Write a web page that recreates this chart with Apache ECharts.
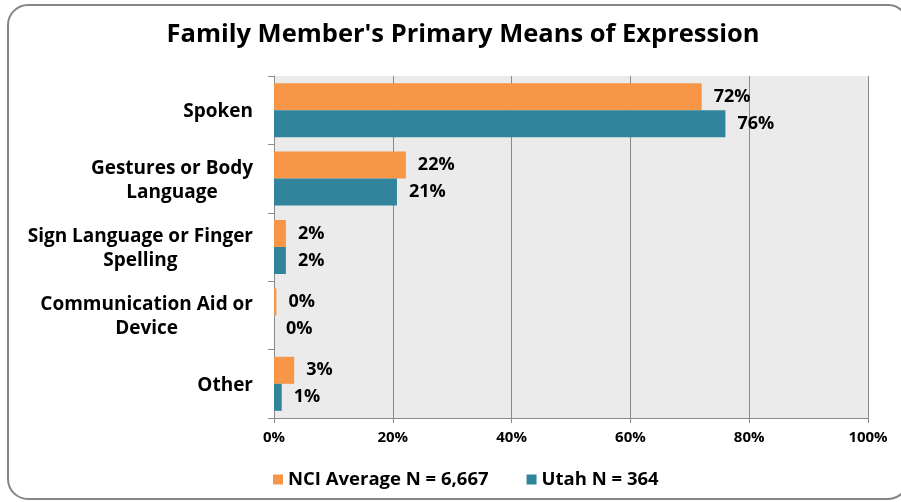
<!DOCTYPE html>
<html>
<head>
<meta charset="utf-8">
<script src="https://cdn.jsdelivr.net/npm/echarts@6/dist/echarts.min.js"></script>
<style>
html,body{margin:0;padding:0;background:#fff;}
#chart{width:901px;height:502px;}
</style>
</head>
<body>
<div id="chart"></div>
<script>
const categories = [
  'Spoken',
  'Gestures or Body\nLanguage',
  'Sign Language or Finger\nSpelling',
  'Communication Aid or\nDevice',
  'Other'
];
const seriesNames = ['NCI Average N = 6,667', 'Utah N = 364'];
const nciValues = [72, 22.2, 2, 0.4, 3.4];
const utahValues = [76, 20.7, 2, 0, 1.3];
const xTicks = [0, 20, 40, 60, 80, 100];

const FONT = 'Open Sans';
const chart = echarts.init(document.getElementById('chart'));

function labelFmt(p){ return Math.round(p.value) + '%'; }

chart.setOption({
  animation: false,
  backgroundColor: '#ffffff',
  title: {
    text: "Family Member's Primary Means of Expression",
    left: 458, top: 17, textAlign: 'center',
    textStyle: {fontFamily: FONT, fontWeight: 'bold', fontSize: 25.5, color: '#000'}
  },
  graphic: [{
    type: 'rect', silent: true, z: -1,
    shape: {x: 8, y: 5, width: 900, height: 494, r: 20},
    style: {fill: 'none', stroke: '#858585', lineWidth: 2}
  }],
  legend: {
    left: 268, top: 465,
    itemWidth: 10, itemHeight: 10, itemGap: 38,
    icon: 'rect',
    textStyle: {fontFamily: FONT, fontWeight: 'bold', fontSize: 18.5, color: '#000'},
    data: seriesNames
  },
  grid: {left: 274, right: 33, top: 76, bottom: 84, show: true, backgroundColor: '#ebebeb', borderWidth: 0},
  xAxis: {
    type: 'value', min: 0, max: 100, interval: 20,
    axisLine: {show: true, lineStyle: {color: '#8a8a8a', width: 1}},
    axisTick: {show: true, length: 5, lineStyle: {color: '#8a8a8a'}},
    splitLine: {show: true, lineStyle: {color: '#8a8a8a', width: 1}},
    axisLabel: {
      margin: 12, fontFamily: FONT, fontWeight: 'bold', fontSize: 15, color: '#000',
      formatter: function(v){ return xTicks.indexOf(v) >= 0 ? v + '%' : ''; }
    }
  },
  yAxis: {
    type: 'category', inverse: true, data: categories,
    axisLine: {show: true, lineStyle: {color: '#8a8a8a', width: 1}},
    axisTick: {show: true, length: 6, lineStyle: {color: '#8a8a8a'}},
    axisLabel: {
      margin: 21, color: '#000', fontFamily: FONT, fontWeight: 'bold', fontSize: 19, lineHeight: 24,
      padding: [3, 0, 0, 0],
      formatter: function(v){ return v.split('\n').map(function(s){ return '{c|' + s + '}'; }).join('\n'); },
      rich: {c: {align: 'center', fontFamily: FONT, fontWeight: 'bold', fontSize: 19, lineHeight: 24, color: '#000'}}
    }
  },
  series: [
    {
      name: seriesNames[0], type: 'bar', data: nciValues,
      barWidth: 27, barGap: '0%',
      itemStyle: {color: '#f79646'},
      label: {show: true, position: 'right', distance: 12, formatter: labelFmt,
        fontFamily: FONT, fontWeight: 'bold', fontSize: 18, color: '#000'}
    },
    {
      name: seriesNames[1], type: 'bar', data: utahValues,
      barWidth: 27, barGap: '0%',
      itemStyle: {color: '#31849b'},
      label: {show: true, position: 'right', distance: 12, formatter: labelFmt,
        fontFamily: FONT, fontWeight: 'bold', fontSize: 18, color: '#000'}
    }
  ]
});
</script>
</body>
</html>
